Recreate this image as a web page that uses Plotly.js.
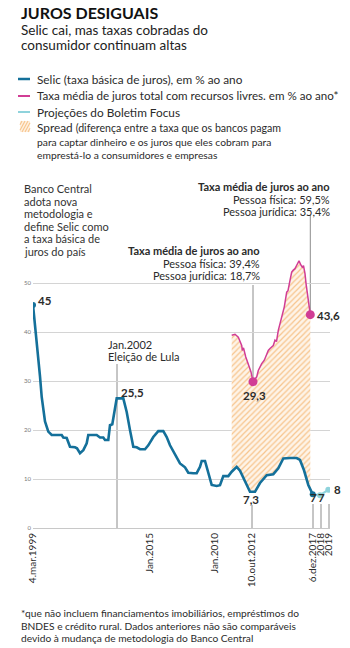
<!DOCTYPE html>
<html><head><meta charset="utf-8">
<script src="https://cdn.plot.ly/plotly-3.0.1.min.js"></script>
<style>html,body{margin:0;padding:0;background:#fff;}#chart{width:350px;height:648px;}</style>
</head><body><div id="chart"></div>
<script>
// ---- DATA (x = position on the chart's own, non-uniform timeline) ----
const selicX = [0, 2, 3.5, 5.3, 7, 8.7, 10.3, 12, 15.3, 18.7, 28.7, 30.3, 33.7, 37, 42, 44, 47, 50.3, 53.7, 55.3, 63.7, 67, 70.3, 72, 75.3, 77, 79.3, 81.3, 82.7, 83.7, 90.3, 93.7, 97, 100.3, 103.7, 107, 112, 115.3, 120.3, 125.3, 130.3, 133.7, 137, 142, 147, 152, 155.3, 160.3, 163.7, 167, 168.7, 172, 175.3, 178.7, 183.7, 187, 190.3, 195.3, 198.7, 203.7, 207, 212, 217, 222, 227, 233.7, 240.3, 245.3, 250.3, 257, 263.7, 267, 271, 275.3, 277.3, 279.7];
const selicY = [45.6, 41.8, 38, 34.3, 31, 26.8, 24, 21.8, 19.7, 19, 19, 18.5, 18.4, 16.6, 16.5, 16.3, 15.3, 15.9, 17.3, 19, 19, 18.5, 18.5, 18, 18, 21, 21.2, 23.4, 25.1, 26.5, 26.5, 23.7, 20, 16.6, 16.5, 16.1, 16.1, 16.9, 18.6, 19.8, 19.8, 18.6, 16.9, 14.9, 13.2, 12.4, 11.3, 11.2, 11.2, 12.5, 13.7, 13.7, 11.2, 8.8, 8.6, 8.75, 10.6, 10.6, 11.5, 12.5, 11.7, 9.5, 7.4, 7.4, 9.2, 10.8, 11, 12.2, 14.2, 14.3, 14.3, 13.9, 11.8, 8.8, 7.8, 6.9];
const taxaX = [198.7, 202, 205.3, 207, 208.7, 209.3, 210.5, 212.7, 215.3, 218, 220, 223.7, 225.3, 228.7, 231.3, 233.7, 235.3, 237, 240.3, 242, 243.5, 245.3, 248.7, 251.3, 253.7, 255, 257, 258.7, 260.3, 262, 263.7, 266, 268, 269.3, 270.5, 272, 273, 274.7, 276, 277.3];
const taxaY = [39.4, 39.6, 39, 38, 37.3, 36.3, 36.8, 35, 33.3, 31.9, 29.9, 30.9, 32.2, 33.6, 34.3, 35.6, 36.3, 36.7, 37.3, 38.4, 38.1, 40.4, 43.1, 45.2, 48.2, 48.5, 50.6, 52.3, 52.7, 53, 53.7, 54.6, 53.7, 53.3, 53.6, 52, 50, 47.2, 45.9, 43.6];
const focusX = [279.7, 287, 295.3];
const focusY = [6.9, 6.7, 7.8];
const tickVals = [0, 117, 182, 219, 280, 288, 296];
const tickText = ['4.mar.1999', 'Jan.2015', 'Jan.2010', '10.out.2012', '6.dez.2017', '2018', '2019'];
const eventLula = 84;   // Jan.2002 marker
const spreadStart = taxaX[0], spreadEnd = taxaX[taxaX.length - 1];

// ---- styling ----
const FONT = 'Lato, "Open Sans", sans-serif';
const BLUE = '#14709a', PINK = '#d13d95', CYAN = '#8fd3dc', ORANGE = '#f7c48c', TXT = '#2b2b2b';
const L = 33, R = 20, T = 254, B = 120, W = 350 - L - R, H = 648 - T - B, YMAX = 56;
const px = v => (v - L) / W;            // page px -> paper x
const py = v => (648 - B - v) / H;      // page px -> paper y

const baseIdx = selicX.map((x, i) => i).filter(i => selicX[i] >= spreadStart && selicX[i] <= spreadEnd);
const minIdx = taxaY.indexOf(Math.min(...taxaY));

const traces = [
  {x: baseIdx.map(i => selicX[i]), y: baseIdx.map(i => selicY[i]), mode: 'lines', line: {width: 0, color: 'rgba(0,0,0,0)'}, hoverinfo: 'skip', showlegend: false},
  {x: taxaX, y: taxaY, mode: 'lines', fill: 'tonexty', fillcolor: '#fef2e4',
   fillpattern: {shape: '/', fgcolor: ORANGE, bgcolor: '#fef4e8', size: 4, solidity: 0.3},
   line: {color: PINK, width: 1.5}, showlegend: false},
  {x: selicX, y: selicY, mode: 'lines', line: {color: BLUE, width: 2.6}, showlegend: false},
  {x: focusX, y: focusY, mode: 'lines', line: {color: CYAN, width: 2.2}, showlegend: false},
  {x: [focusX[1], focusX[2]], y: [focusY[1], focusY[2]], mode: 'markers', marker: {color: CYAN, size: 6}, showlegend: false},
  {x: [selicX[0], selicX[selicX.length - 1]], y: [selicY[0], selicY[selicY.length - 1]], mode: 'markers', marker: {color: BLUE, size: 6}, showlegend: false},
  {x: [taxaX[minIdx], taxaX[taxaX.length - 1]], y: [taxaY[minIdx], taxaY[taxaY.length - 1]], mode: 'markers', marker: {color: PINK, size: 9}, showlegend: false}
];

const ann = [];
function txt(text, x, y, opt = {}) {
  ann.push(Object.assign({text, xref: 'paper', yref: 'paper', x: px(x), y: py(y), xanchor: 'left', yanchor: 'middle',
    showarrow: false, font: {family: FONT, size: 11, color: TXT}}, opt));
}
// title & subtitle
txt('<b>JUROS DESIGUAIS</b>', 19, 12, {font: {family: FONT, size: 16, color: '#111'}});
txt('Selic cai, mas taxas cobradas do', 19, 29.5, {font: {family: FONT, size: 13.5, color: '#222'}});
txt('consumidor continuam altas', 19, 45, {font: {family: FONT, size: 13.5, color: '#222'}});
// legend
txt('Selic (taxa básica de juros), em % ao ano', 35, 79, {font: {family: FONT, size: 11.8, color: TXT}});
txt('Taxa média de juros total com recursos livres. em % ao ano*', 35, 96, {font: {family: FONT, size: 11.6, color: TXT}});
txt('Projeções do Boletim Focus', 35, 112, {font: {family: FONT, size: 11.8, color: TXT}});
txt('Spread <span style="font-size:10.6px">(diferença entre a taxa que os bancos pagam</span>', 35, 127.5, {font: {family: FONT, size: 11.8, color: TXT}});
txt('para captar dinheiro e os juros que eles cobram para', 35, 142.5, {font: {family: FONT, size: 10.3, color: TXT}});
txt('emprestá-lo a consumidores e empresas', 35, 154.5, {font: {family: FONT, size: 10.3, color: TXT}});
// chart notes
['Banco Central', 'adota nova', 'metodologia e', 'define Selic como', 'a taxa básica de', 'juros do país'].forEach((s, i) =>
  txt(s, 22, 189 + i * 12.4, {font: {family: FONT, size: 11, color: '#333'}}));
txt('<b>Taxa média de juros ao ano</b>', 332, 186, {xanchor: 'right'});
txt('Pessoa física: 59,5%', 332, 199, {xanchor: 'right'});
txt('Pessoa jurídica: 35,4%', 332, 211.5, {xanchor: 'right'});
txt('<b>Taxa média de juros ao ano</b>', 262, 250, {xanchor: 'right'});
txt('Pessoa física: 39,4%', 262, 263, {xanchor: 'right'});
txt('Pessoa jurídica: 18,7%', 262, 275.5, {xanchor: 'right'});
txt('Jan.2002', 106, 344);
txt('Eleição de Lula', 106, 356.5);
txt('<b>45</b>', 36, 300, {font: {family: FONT, size: 11.5, color: TXT}});
txt('<b>25,5</b>', 119, 392, {font: {family: FONT, size: 11.5, color: TXT}});
txt('<b>43,6</b>', 315, 315, {font: {family: FONT, size: 11.5, color: TXT}});
txt('<b>29,3</b>', 254, 395, {xanchor: 'center', font: {family: FONT, size: 11.5, color: TXT}});
txt('<b>7,3</b>', 251, 499, {xanchor: 'center', font: {family: FONT, size: 11.5, color: TXT}});
txt('<b>7</b>', 313.5, 497.5, {xanchor: 'center', font: {family: FONT, size: 11.5, color: TXT}});
txt('<b>7</b>', 321.5, 497.5, {xanchor: 'center', font: {family: FONT, size: 11.5, color: TXT}});
txt('<b>8</b>', 332, 489, {font: {family: FONT, size: 11.5, color: TXT}});
// footnote
txt('*que não incluem financiamentos imobiliários, empréstimos do', 19, 613, {font: {family: FONT, size: 10.2, color: TXT}});
txt('BNDES e crédito rural. Dados anteriores não são comparáveis', 19, 625.5, {font: {family: FONT, size: 10.2, color: TXT}});
txt('devido à mudança de metodologia do Banco Central', 19, 637.5, {font: {family: FONT, size: 10.2, color: TXT}});

const GRAY = '#8c8c8c';
const shapes = [];
function vline(xd, y0, y1) { shapes.push({type: 'line', xref: 'x', yref: 'paper', x0: xd, x1: xd, y0: py(y0), y1: py(y1), line: {color: GRAY, width: 1}, layer: 'below'}); }
vline(eventLula, 364, 528);
vline(taxaX[minIdx], 285, 381);
vline(tickVals[3], 505, 528);
vline(spreadEnd, 215, 315);
vline(tickVals[4], 504, 528); vline(tickVals[5], 504, 528); vline(tickVals[6], 504, 528);
// legend symbols
function hseg(y, color, w) { shapes.push({type: 'line', xref: 'paper', yref: 'paper', x0: px(18), x1: px(30), y0: py(y), y1: py(y), line: {color, width: w}}); }
hseg(79, BLUE, 2.5); hseg(96, PINK, 2); hseg(112, CYAN, 2);
shapes.push({type: 'rect', xref: 'paper', yref: 'paper', x0: px(20), x1: px(30), y0: py(132), y1: py(121), fillcolor: '#fef0e0', line: {width: 0}});
[0, 3, 6, 9, 12].forEach(o => {
  const xa = 20 + o - 4, xb = xa + 6;
  const x0 = Math.max(xa, 20), x1 = Math.min(xb, 30);
  const yAt = x => 132 - (x - xa) * (11 / 6);
  shapes.push({type: 'line', xref: 'paper', yref: 'paper', x0: px(x0), x1: px(x1), y0: py(yAt(x0)), y1: py(yAt(x1)), line: {color: ORANGE, width: 1.1}});
});

const layout = {
  width: 350, height: 648, margin: {l: L, r: R, t: T, b: B},
  paper_bgcolor: '#fff', plot_bgcolor: '#fff', showlegend: false,
  font: {family: FONT, color: TXT},
  xaxis: {range: [0, W], tickmode: 'array', tickvals: tickVals, ticktext: tickText, tickangle: -90,
    tickfont: {family: FONT, size: 10, color: TXT}, showgrid: false, zeroline: false, showline: true,
    linecolor: '#c8c8c8', linewidth: 1, ticks: '', fixedrange: true},
  yaxis: {range: [0, YMAX], tickvals: [0, 10, 20, 30, 40, 50], ticks: '', showgrid: true, gridcolor: '#d4d4d4',
    gridwidth: 1, zeroline: false, showline: false, tickfont: {family: FONT, size: 6, color: '#777'}, ticklabelstandoff: 1, fixedrange: true},
  annotations: ann, shapes
};
Plotly.newPlot('chart', traces, layout, {staticPlot: true, displayModeBar: false});
</script></body></html>
